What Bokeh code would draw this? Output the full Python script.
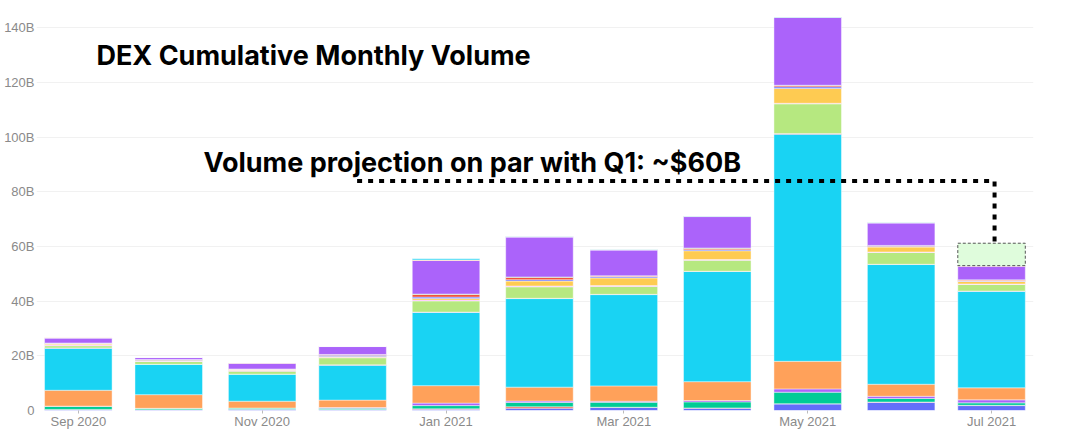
import pandas as pd
from bokeh.plotting import figure
from bokeh.models import ColumnDataSource, FixedTicker, DatetimeTickFormatter, Range1d, Label
from bokeh.embed import file_html
from bokeh.resources import INLINE

# ---------------- data (billions USD) ----------------
months = ["2020-09-01", "2020-10-01", "2020-11-01", "2020-12-01", "2021-01-01", "2021-02-01",
          "2021-03-01", "2021-04-01", "2021-05-01", "2021-06-01", "2021-07-01"]

s00 = [0.3, 0.3, 0.5, 0.4, 0.5, 0.85, 1.1, 0.85, 2.4, 3.0, 1.8]
s01 = [0.1, 0.0, 0.0, 0.0, 0.1, 0.5, 0.1, 0.1, 0.1, 0.1, 0.1]
s02 = [1.1, 0.5, 0.4, 0.4, 1.2, 1.6, 1.8, 2.2, 4.2, 1.3, 0.9]
s03 = [0.1, 0.0, 0.0, 0.3, 0.9, 0.5, 0.4, 0.5, 1.2, 0.8, 1.1]
s04 = [5.8, 5.0, 2.5, 2.7, 6.4, 5.1, 5.6, 6.9, 10.1, 4.4, 4.4]
s05 = [15.4, 11.1, 9.9, 12.8, 26.8, 32.4, 33.4, 40.3, 83.1, 43.8, 35.3]
s06 = [0.1, 0.0, 0.0, 0.1, 0.1, 0.1, 0.1, 0.1, 0.2, 0.1, 0.1]
s07 = [0.8, 1.0, 1.1, 2.6, 4.1, 4.2, 2.9, 4.0, 10.9, 4.3, 2.4]
s08 = [0.3, 0.2, 0.3, 0.2, 0.3, 0.3, 0.3, 0.3, 0.2, 0.2, 0.2]
s09 = [0.3, 0.3, 0.2, 0.3, 0.6, 1.8, 2.8, 3.2, 5.4, 1.8, 0.9]
s10 = [0.3, 0.3, 0.2, 0.4, 0.5, 0.5, 0.4, 0.4, 0.6, 0.3, 0.2]
s11 = [0.1, 0.0, 0.1, 0.3, 1.0, 0.9, 0.3, 0.5, 0.5, 0.2, 0.3]
s12 = [0.0, 0.0, 0.0, 0.0, 0.1, 0.1, 0.1, 0.1, 0.1, 0.1, 0.1]
s13 = [1.8, 0.7, 2.1, 2.9, 12.3, 14.6, 9.4, 11.5, 24.8, 8.2, 5.0]
s14 = [0.1, 0.0, 0.1, 0.0, 0.2, 0.1, 0.1, 0.1, 0.1, 0.1, 0.1]
s15 = [0.0, 0.0, 0.0, 0.0, 0.4, 0.1, 0.1, 0.1, 0.1, 0.1, 0.1]

palette = ["#636EFA", "#EF553B", "#00CC96", "#AB63FA", "#FFA15A", "#19D3F3", "#FF6692",
           "#B6E880", "#FF97FF", "#FECB52", "#636EFA", "#EF553B", "#00CC96", "#AB63FA",
           "#FFA15A", "#19D3F3"]

projection_month = "2021-07-01"
projection_total = 61.2

y_ticks = [0, 20, 40, 60, 80, 100, 120, 140]
y_tick_labels = ["0", "20B", "40B", "60B", "80B", "100B", "120B", "140B"]
x_tick_months = ["2020-09-01", "2020-11-01", "2021-01-01", "2021-03-01", "2021-05-01", "2021-07-01"]

title_text = "DEX Cumulative Monthly Volume"
note_text = "Volume projection on par with Q1: ~$60B"

# annotation anchors (data space)
title_pos = ("2020-09-07", 129.7)
note_pos = ("2020-10-12 12:00", 90.7)
guide_start = "2020-12-02 12:00"
guide_corner = "2021-07-02"
guide_y = 84.0

# ---------------- build ----------------
series = [s00, s01, s02, s03, s04, s05, s06, s07, s08, s09, s10, s11, s12, s13, s14, s15]
names = ["s%02d" % i for i in range(len(series))]
data = {"month": pd.to_datetime(months)}
for n, s in zip(names, series):
    data[n] = s
source = ColumnDataSource(data)

DAY = 86400000
bar_w = 22.4 * DAY

def ms(d):
    return pd.Timestamp(d).value / 1e6

p = figure(width=1064, height=431, output_backend="svg", toolbar_location=None,
           x_axis_type="datetime",
           x_range=Range1d(ms("2020-08-18 03:00"), ms("2021-07-14 22:00")),
           y_range=Range1d(0, 150),
           min_border_top=0, min_border_right=31, min_border_left=36, min_border_bottom=0)
p.outline_line_color = None
p.background_fill_color = "white"
p.border_fill_color = "white"

p.vbar_stack(names, x="month", width=bar_w, color=palette, source=source,
             line_color="white", line_width=0.8, line_alpha=0.55)

# projection box
jul_idx = months.index(projection_month)
jul_total = sum(s[jul_idx] for s in series)
proj_src = ColumnDataSource(dict(x=[pd.Timestamp(projection_month)], bottom=[jul_total], top=[projection_total]))
p.vbar(x="x", bottom="bottom", top="top", width=bar_w, source=proj_src,
       fill_color="#dffcdc", line_color="#555555", line_width=1, line_dash="3 2")

# dotted guide
p.line(x=[pd.Timestamp(guide_start), pd.Timestamp(guide_corner), pd.Timestamp(guide_corner)],
       y=[guide_y, guide_y, projection_total], line_color="black", line_width=4,
       line_dash="5 6", line_join="miter")

p.add_layout(Label(x=ms(title_pos[0]), y=title_pos[1], text=title_text,
                   text_font="Inter", text_font_style="bold", text_font_size="27px",
                   text_color="black", text_baseline="alphabetic"))
p.add_layout(Label(x=ms(note_pos[0]), y=note_pos[1], text=note_text,
                   text_font="Inter", text_font_style="bold", text_font_size="27px",
                   text_color="black", text_baseline="alphabetic"))

# axes
p.yaxis.ticker = FixedTicker(ticks=y_ticks)
p.yaxis.major_label_overrides = {t: l for t, l in zip(y_ticks, y_tick_labels)}
p.yaxis.axis_line_color = None
p.yaxis.major_tick_line_color = None
p.yaxis.minor_tick_line_color = None
p.yaxis.major_tick_out = 0
p.yaxis.major_tick_in = 0
p.yaxis.major_label_standoff = 2
p.yaxis.major_label_text_font = "Liberation Sans"
p.yaxis.major_label_text_font_size = "13px"
p.yaxis.major_label_text_color = "#8a8a8a"

p.xaxis.ticker = FixedTicker(ticks=[ms(d) for d in x_tick_months])
p.xaxis.formatter = DatetimeTickFormatter(months="%b %Y", days="%b %Y", years="%b %Y")
p.xaxis.axis_line_color = None
p.xaxis.major_tick_line_color = "#bbbbbb"
p.xaxis.major_tick_in = 0
p.xaxis.major_tick_out = 3
p.xaxis.minor_tick_line_color = None
p.xaxis.major_label_standoff = 0
p.xaxis.major_label_text_font = "Liberation Sans"
p.xaxis.major_label_text_font_size = "13px"
p.xaxis.major_label_text_color = "#8a8a8a"

p.xgrid.grid_line_color = None
p.ygrid.grid_line_color = "#f1f1f1"
p.ygrid.grid_line_width = 1

open("out.html", "w").write(file_html(p, INLINE))
